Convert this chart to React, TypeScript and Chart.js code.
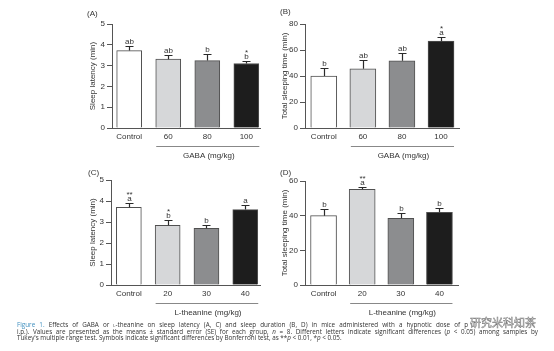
import React, { useEffect, useRef } from 'react';
import { Chart, registerables } from 'chart.js';

Chart.register(...registerables);

// ---------- data ----------
const gabaCategories = ['Control', '60', '80', '100'];
const theanineCategories = ['Control', '20', '30', '40'];

const latencyGaba = [3.72, 3.31, 3.24, 3.1];
const latencyGabaSE = [0.23, 0.2, 0.32, 0.13];
const latencyGabaLetters = ['ab', 'ab', 'b', 'b'];
const latencyGabaStars = ['', '', '', '*'];

const sleepGaba = [40.0, 45.5, 51.7, 66.8];
const sleepGabaSE = [5.8, 6.9, 6.1, 3.5];
const sleepGabaLetters = ['b', 'ab', 'ab', 'a'];
const sleepGabaStars = ['', '', '', '*'];

const latencyTheanine = [3.7, 2.84, 2.7, 3.59];
const latencyTheanineSE = [0.19, 0.24, 0.16, 0.22];
const latencyTheanineLetters = ['a', 'b', 'b', 'a'];
const latencyTheanineStars = ['**', '*', '', ''];

const sleepTheanine = [40.0, 55.2, 38.5, 41.9];
const sleepTheanineSE = [3.6, 1.5, 2.8, 2.3];
const sleepTheanineLetters = ['b', 'a', 'b', 'b'];
const sleepTheanineStars = ['', '**', '', ''];

const latencyTicks = [0, 1, 2, 3, 4, 5];
const sleepGabaTicks = [0, 20, 40, 60, 80];
const sleepTheanineTicks = [0, 20, 40, 60];

const barColors = ['#ffffff', '#d6d7d9', '#8c8d8f', '#1d1d1d'];

// ---------- layout ----------
const W = 554;
const H = 351;
const Y_BOX = 30;
const X_BOX = 20;
const FONT = '"Liberation Sans", Arial, sans-serif';
const TXT = '#333333';
const AXIS = '#555555';

type Panel = {
  id: string;
  label: string;
  labelX: number;
  labelY: number;
  categories: string[];
  values: number[];
  se: number[];
  letters: string[];
  stars: string[];
  yTicks: number[];
  yTitle: string;
  yTitleX: number;
  group: string;
  area: { left: number; right: number; top: number; bottom: number };
  xMin: number;
  xMax: number;
  barThickness: number;
};

const panels: Panel[] = [
  {
    id: 'A', label: '(A)', labelX: 87, labelY: 14,
    categories: gabaCategories, values: latencyGaba, se: latencyGabaSE,
    letters: latencyGabaLetters, stars: latencyGabaStars, yTicks: latencyTicks,
    yTitle: 'Sleep latency (min)', yTitleX: 93, group: 'GABA (mg/kg)',
    area: { left: 112, right: 260, top: 24, bottom: 128 }, xMin: -0.44, xMax: 3.35, barThickness: 25,
  },
  {
    id: 'B', label: '(B)', labelX: 280, labelY: 12,
    categories: gabaCategories, values: sleepGaba, se: sleepGabaSE,
    letters: sleepGabaLetters, stars: sleepGabaStars, yTicks: sleepGabaTicks,
    yTitle: 'Total sleeping time (min)', yTitleX: 285, group: 'GABA (mg/kg)',
    area: { left: 305, right: 459, top: 24, bottom: 128 }, xMin: -0.48, xMax: 3.46, barThickness: 26,
  },
  {
    id: 'C', label: '(C)', labelX: 88, labelY: 172.5,
    categories: theanineCategories, values: latencyTheanine, se: latencyTheanineSE,
    letters: latencyTheanineLetters, stars: latencyTheanineStars, yTicks: latencyTicks,
    yTitle: 'Sleep latency (min)', yTitleX: 93, group: 'L-theanine (mg/kg)',
    area: { left: 111, right: 260, top: 180, bottom: 285 }, xMin: -0.46, xMax: 3.38, barThickness: 25,
  },
  {
    id: 'D', label: '(D)', labelX: 280, labelY: 172.5,
    categories: theanineCategories, values: sleepTheanine, se: sleepTheanineSE,
    letters: sleepTheanineLetters, stars: sleepTheanineStars, yTicks: sleepTheanineTicks,
    yTitle: 'Total sleeping time (min)', yTitleX: 285, group: 'L-theanine (mg/kg)',
    area: { left: 305, right: 458, top: 181, bottom: 285 }, xMin: -0.48, xMax: 3.48, barThickness: 26,
  },
];

function makeAnnotations(p: Panel) {
  return {
    id: 'annot' + p.id,
    afterDraw(chart: any) {
      const ctx = chart.ctx as CanvasRenderingContext2D;
      const xs = chart.scales.x;
      const ys = chart.scales.y;
      const ca = chart.chartArea;
      ctx.save();
      ctx.font = `8px ${FONT}`;
      ctx.fillStyle = TXT;
      ctx.strokeStyle = '#2a2a2a';
      ctx.lineWidth = 1.2;
      p.values.forEach((v, i) => {
        const x = Math.round(xs.getPixelForValue(i)) + 0.5;
        const y0 = ys.getPixelForValue(v);
        const y1 = Math.round(ys.getPixelForValue(v + p.se[i])) + 0.5;
        ctx.beginPath();
        ctx.moveTo(x, y0);
        ctx.lineTo(x, y1);
        ctx.moveTo(x - 4, y1);
        ctx.lineTo(x + 4, y1);
        ctx.stroke();
        ctx.textAlign = 'center';
        ctx.textBaseline = 'alphabetic';
        ctx.fillText(p.letters[i], x, y1 - 2.5);
        if (p.stars[i]) ctx.fillText(p.stars[i], x, y1 - 6.5);
      });
      // panel label
      ctx.textAlign = 'left';
      ctx.textBaseline = 'middle';
      ctx.fillText(p.label, p.labelX, p.labelY);
      // y title
      ctx.save();
      ctx.translate(p.yTitleX, (ca.top + ca.bottom) / 2);
      ctx.rotate(-Math.PI / 2);
      ctx.textAlign = 'center';
      ctx.textBaseline = 'middle';
      ctx.fillText(p.yTitle, 0, 0);
      ctx.restore();
      // group line + label
      const gx1 = xs.getPixelForValue(1) - 12;
      const gx2 = xs.getPixelForValue(3) + 13;
      const gy = Math.round(ca.bottom + 17.5) + 0.5;
      ctx.strokeStyle = '#888888';
      ctx.lineWidth = 1;
      ctx.beginPath();
      ctx.moveTo(gx1, gy);
      ctx.lineTo(gx2, gy);
      ctx.stroke();
      ctx.textAlign = 'center';
      ctx.textBaseline = 'middle';
      ctx.fillText(p.group, (gx1 + gx2) / 2 + 1, gy + 9);
      ctx.restore();
    },
  };
}

function PanelChart({ p }: { p: Panel }) {
  const ref = useRef<HTMLCanvasElement | null>(null);
  useEffect(() => {
    if (!ref.current) return;
    const a = p.area;
    const chart = new Chart(ref.current, {
      type: 'bar',
      data: {
        datasets: [
          {
            data: p.values.map((v, i) => ({ x: i, y: v })),
            backgroundColor: barColors,
            borderColor: '#505050',
            borderWidth: 1,
            barThickness: p.barThickness,
            borderSkipped: 'bottom',
          } as any,
        ],
      },
      options: {
        animation: false,
        responsive: false,
        devicePixelRatio: 1,
        layout: {
          padding: { left: a.left - Y_BOX, right: W - a.right, top: a.top, bottom: H - a.bottom - X_BOX },
        },
        plugins: { legend: { display: false }, tooltip: { enabled: false } },
        scales: {
          x: {
            type: 'linear',
            min: p.xMin,
            max: p.xMax,
            offset: false,
            afterBuildTicks: (s: any) => {
              s.ticks = p.categories.map((_, i) => ({ value: i }));
            },
            afterFit: (s: any) => {
              s.height = X_BOX;
            },
            ticks: {
              autoSkip: false,
              maxRotation: 0,
              padding: 4,
              color: TXT,
              font: { family: FONT, size: 8 },
              callback: (v: any) => p.categories[v as number],
            },
            grid: { display: true, drawOnChartArea: false, drawTicks: false, offset: false },
            border: { display: true, color: AXIS, width: 1 },
          },
          y: {
            min: 0,
            max: p.yTicks[p.yTicks.length - 1],
            afterBuildTicks: (s: any) => {
              s.ticks = p.yTicks.map((v) => ({ value: v }));
            },
            afterFit: (s: any) => {
              s.width = Y_BOX;
            },
            ticks: { padding: 2, color: TXT, font: { family: FONT, size: 8 } },
            grid: { drawOnChartArea: false, drawTicks: true, tickLength: 5, color: AXIS },
            border: { display: true, color: AXIS, width: 1 },
          },
        },
      } as any,
      plugins: [makeAnnotations(p)],
    });
    return () => chart.destroy();
  }, [p]);
  return (
    <canvas
      ref={ref}
      width={W}
      height={H}
      style={{ position: 'absolute', left: 0, top: 0, width: W, height: H }}
    />
  );
}

const capFont = '"Open Sans", "Liberation Sans", sans-serif';
const capStyle: React.CSSProperties = {
  position: 'absolute',
  fontFamily: capFont,
  fontSize: 6.3,
  lineHeight: '7px',
  color: '#333',
  margin: 0,
};

export default function App() {
  return (
    <div
      style={{
        position: 'fixed',
        left: 0,
        top: 0,
        width: W,
        height: H,
        background: '#ffffff',
        overflow: 'hidden',
      }}
    >
      {panels.map((p) => (
        <PanelChart key={p.id} p={p} />
      ))}
      <div style={{ ...capStyle, left: 17, top: 321, width: 451, textAlign: 'justify', textAlignLast: 'justify' as any }}>
        <span style={{ color: '#3f8fbf' }}>Figure 1.</span> Effects of GABA or{' '}
        <span style={{ fontVariant: 'small-caps' }}>l</span>-theanine on sleep latency (A, C) and sleep duration (B,
        D) in mice administered with a hypnotic dose of p
      </div>
      <div style={{ ...capStyle, left: 17, top: 327.5, width: 521, textAlign: 'justify', textAlignLast: 'justify' as any }}>
        i.p.). Values are presented as the means ± standard error (SE) for each group, <i>n</i> = 8. Different letters
        indicate significant differences (<i>p</i> &lt; 0.05) among samples by
      </div>
      <div style={{ ...capStyle, left: 17, top: 334, whiteSpace: 'nowrap' }}>
        Tukey's multiple range test. Symbols indicate significant differences by Bonferroni test, as **<i>p</i> &lt;
        0.01, *<i>p</i> &lt; 0.05.
      </div>
      <div
        style={{
          position: 'absolute',
          left: 470,
          top: 315,
          fontFamily: '"Noto Sans CJK SC", sans-serif',
          fontSize: 11,
          lineHeight: '14px',
          color: 'rgba(255,255,255,0.85)',
          WebkitTextStroke: '0.5px #777',
          whiteSpace: 'nowrap',
        }}
      >
        研究米科知茶
      </div>
    </div>
  );
}
